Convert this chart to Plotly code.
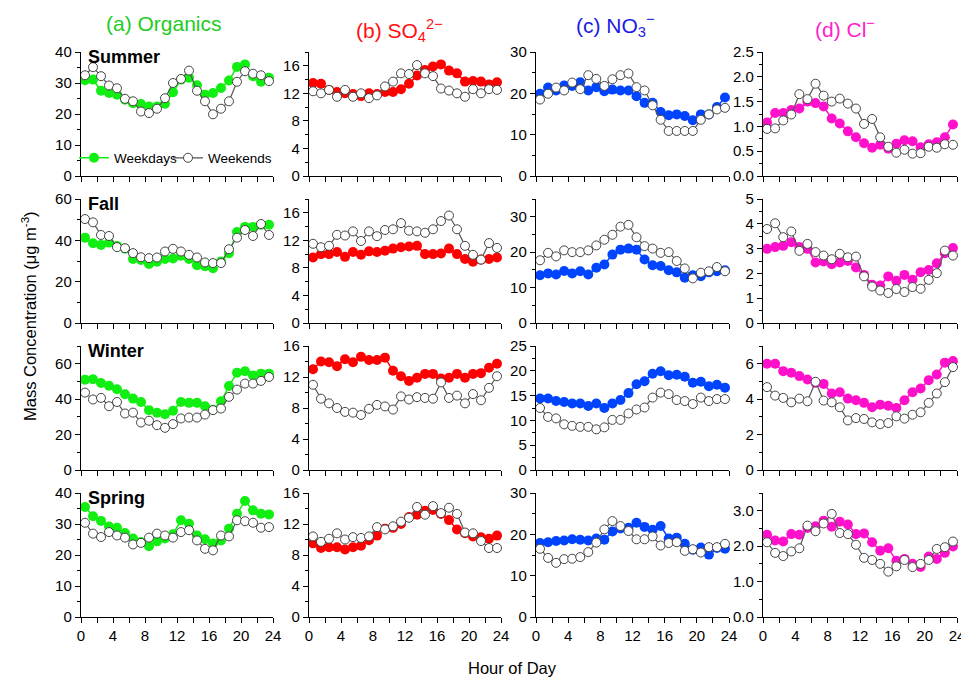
import plotly.graph_objects as go

# page is shown with the browser's 8px body margin
OFF = 8
W, H = 969 - OFF, 682 - OFF

HOURS = [0.5, 1.5, 2.5, 3.5, 4.5, 5.5, 6.5, 7.5, 8.5, 9.5, 10.5, 11.5,
         12.5, 13.5, 14.5, 15.5, 16.5, 17.5, 18.5, 19.5, 20.5, 21.5, 22.5, 23.5]

SEASONS = ["Summer", "Fall", "Winter", "Spring"]
SPECIES_TITLES = ["(a) Organics", "(b) SO<sub>4</sub><sup>2\u2212</sup>",
                  "(c) NO<sub>3</sub><sup>\u2212</sup>", "(d) Cl<sup>\u2212</sup>"]

# ---- Organics ----
ORG_SU_WD = [30.9, 31.1, 27.5, 26.8, 26.2, 24.6, 23.5, 23.2, 22.4, 22.4, 23.3, 27.0, 31.1, 31.7, 29.3, 26.2, 26.8, 28.4, 30.8, 35.2, 36.0, 32.2, 30.4, 31.7]
ORG_SU_WE = [32.5, 35.1, 32.2, 29.2, 28.3, 24.9, 24.1, 20.8, 20.3, 21.7, 25.1, 30.0, 31.3, 34.0, 27.5, 24.1, 19.9, 21.7, 24.1, 30.4, 33.8, 33.0, 32.5, 30.6]
ORG_FA_WD = [41.3, 38.6, 37.8, 38.9, 37.3, 36.0, 31.0, 30.5, 28.6, 29.6, 31.0, 31.2, 32.5, 31.0, 28.0, 27.5, 26.5, 29.8, 33.8, 44.0, 46.5, 46.5, 47.5, 47.5]
ORG_FA_WE = [50.3, 48.7, 42.6, 42.1, 36.7, 36.2, 33.8, 31.8, 31.4, 31.7, 34.6, 35.9, 34.6, 33.0, 31.7, 29.3, 29.0, 29.0, 35.7, 41.3, 45.0, 42.1, 47.9, 42.6]
ORG_WI_WD = [51.0, 51.2, 49.1, 47.6, 45.6, 42.8, 40.3, 38.4, 33.8, 32.3, 31.5, 33.4, 38.4, 37.9, 37.9, 36.0, 34.0, 38.8, 47.4, 54.9, 55.7, 53.4, 54.4, 54.4]
ORG_WI_WE = [43.7, 39.8, 40.7, 36.0, 38.4, 31.9, 32.4, 26.8, 27.8, 25.3, 23.8, 25.9, 29.1, 29.6, 29.6, 31.3, 33.8, 34.7, 41.3, 45.4, 48.8, 48.8, 50.3, 52.5]
ORG_SP_WD = [35.5, 32.5, 31.0, 29.2, 28.8, 27.1, 25.3, 24.2, 22.8, 24.4, 25.3, 26.7, 31.2, 30.1, 26.3, 25.1, 23.7, 24.7, 28.5, 33.3, 37.4, 34.4, 33.3, 33.1]
ORG_SP_WE = [30.4, 26.9, 25.8, 27.4, 26.3, 25.6, 23.4, 23.9, 25.6, 26.9, 26.3, 25.6, 27.4, 28.0, 24.7, 22.0, 21.5, 26.3, 26.0, 31.2, 30.9, 30.4, 28.8, 29.0]

# ---- Sulfate ----
SO4_SU_WD = [13.5, 13.4, 12.5, 12.2, 12.0, 11.9, 11.6, 12.0, 11.9, 12.2, 12.2, 12.6, 13.4, 14.6, 15.4, 15.9, 16.2, 15.3, 14.9, 13.7, 13.8, 13.7, 13.3, 13.6]
SO4_SU_WE = [12.3, 12.0, 12.5, 11.5, 12.5, 11.5, 12.0, 11.3, 11.7, 13.0, 13.7, 14.9, 14.8, 16.1, 14.9, 14.5, 12.7, 12.4, 12.0, 11.5, 12.6, 12.0, 12.6, 12.5]
SO4_FA_WD = [9.5, 10.0, 10.0, 10.3, 9.6, 10.3, 9.9, 10.4, 10.3, 10.5, 10.8, 11.0, 11.1, 11.2, 10.0, 10.0, 10.1, 10.8, 10.0, 9.3, 8.9, 9.2, 9.3, 9.5]
SO4_FA_WE = [11.5, 11.0, 11.2, 12.8, 12.7, 13.3, 11.9, 13.3, 12.6, 13.5, 13.6, 14.5, 13.4, 13.3, 13.1, 13.6, 14.8, 15.6, 13.6, 11.2, 9.9, 9.2, 11.6, 10.9]
SO4_WI_WD = [13.0, 14.0, 13.9, 13.4, 14.3, 13.9, 14.6, 14.2, 14.2, 14.5, 12.8, 12.1, 11.5, 11.9, 12.4, 12.4, 11.8, 11.9, 12.4, 11.9, 12.4, 12.5, 13.2, 13.7]
SO4_WI_WE = [11.0, 9.2, 8.6, 8.0, 7.5, 7.4, 7.1, 7.9, 8.4, 8.2, 7.8, 9.5, 9.1, 9.4, 9.3, 9.2, 11.3, 9.3, 9.6, 8.6, 9.8, 9.0, 10.6, 12.1]
SO4_SP_WD = [9.5, 8.9, 9.0, 9.0, 8.7, 9.0, 9.2, 9.9, 10.5, 11.4, 11.5, 12.0, 12.9, 13.2, 13.7, 13.8, 13.3, 12.5, 11.3, 10.8, 10.4, 10.3, 10.1, 10.5]
SO4_SP_WE = [10.4, 9.7, 10.1, 10.8, 10.0, 10.3, 10.2, 10.4, 11.6, 11.3, 11.7, 12.3, 12.8, 14.2, 13.2, 14.3, 13.4, 14.1, 13.3, 10.9, 10.8, 9.8, 8.9, 8.9]

# ---- Nitrate ----
NO3_SU_WD = [19.9, 21.4, 20.7, 21.9, 21.8, 22.7, 20.7, 21.5, 20.5, 20.9, 20.7, 20.7, 19.3, 17.7, 17.7, 15.5, 14.7, 14.9, 14.5, 13.5, 14.9, 14.9, 16.7, 19.0]
NO3_SU_WE = [18.5, 19.9, 21.4, 20.7, 22.6, 21.0, 24.4, 23.5, 21.8, 23.4, 24.4, 24.8, 21.5, 20.7, 17.1, 13.6, 10.9, 10.9, 10.9, 10.9, 13.6, 14.9, 16.1, 16.5]
NO3_FA_WD = [13.5, 14.0, 13.7, 14.7, 14.0, 14.6, 13.7, 15.6, 16.5, 19.3, 20.7, 21.0, 20.7, 17.9, 16.3, 16.1, 14.9, 14.3, 12.8, 13.5, 13.2, 14.3, 14.6, 14.9]
NO3_FA_WE = [17.7, 19.8, 18.8, 20.5, 20.0, 20.0, 20.5, 21.9, 23.5, 24.9, 27.2, 27.7, 24.2, 21.7, 21.0, 19.8, 20.0, 17.5, 15.4, 12.6, 14.2, 14.6, 15.8, 14.6]
NO3_WI_WD = [14.4, 14.4, 13.9, 13.7, 13.4, 13.4, 12.9, 13.4, 12.5, 13.4, 14.1, 15.5, 17.3, 17.9, 19.4, 19.9, 19.1, 19.2, 18.8, 17.6, 17.8, 16.9, 17.2, 16.6]
NO3_WI_WE = [12.5, 10.7, 10.4, 9.2, 8.9, 8.7, 8.7, 8.2, 8.6, 10.1, 10.1, 11.4, 12.2, 12.6, 14.6, 15.6, 15.3, 14.1, 13.9, 13.3, 14.6, 13.9, 14.3, 14.3]
NO3_SP_WD = [17.9, 18.1, 18.4, 18.5, 18.8, 18.7, 18.5, 19.0, 18.7, 20.7, 21.4, 21.6, 22.8, 21.8, 21.1, 22.0, 19.0, 19.2, 17.7, 16.3, 16.8, 15.1, 16.7, 16.5]
NO3_SP_WE = [16.5, 14.3, 13.1, 14.0, 14.1, 14.5, 15.7, 18.0, 21.2, 23.2, 22.0, 20.8, 18.8, 18.8, 19.5, 17.3, 17.9, 18.1, 16.0, 16.4, 15.6, 16.9, 16.9, 17.7]

# ---- Chloride ----
CL_SU_WD = [1.08, 1.27, 1.27, 1.33, 1.36, 1.50, 1.47, 1.40, 1.16, 1.06, 0.90, 0.78, 0.66, 0.57, 0.63, 0.55, 0.65, 0.72, 0.70, 0.58, 0.64, 0.68, 0.78, 1.04]
CL_SU_WE = [0.95, 0.96, 1.12, 1.24, 1.65, 1.55, 1.86, 1.62, 1.50, 1.56, 1.46, 1.36, 1.05, 1.15, 0.78, 0.59, 0.47, 0.53, 0.45, 0.46, 0.59, 0.57, 0.64, 0.63]
CL_FA_WD = [2.99, 3.06, 3.11, 3.26, 3.06, 2.99, 2.44, 2.48, 2.37, 2.44, 2.50, 2.24, 1.94, 1.54, 1.51, 1.88, 1.70, 1.94, 1.74, 2.05, 2.14, 2.41, 2.81, 3.02]
CL_FA_WE = [3.79, 4.02, 3.46, 3.69, 2.91, 3.19, 2.86, 2.72, 2.57, 2.79, 2.65, 2.68, 1.88, 1.47, 1.31, 1.21, 1.37, 1.25, 1.45, 1.38, 1.74, 2.01, 2.92, 2.72]
CL_WI_WD = [6.00, 6.00, 5.58, 5.49, 5.30, 5.11, 4.92, 4.86, 4.32, 4.39, 4.03, 3.94, 3.79, 3.54, 3.69, 3.63, 3.50, 3.94, 4.39, 4.60, 5.07, 5.39, 6.06, 6.15]
CL_WI_WE = [4.68, 4.20, 4.07, 3.82, 4.03, 3.88, 4.98, 3.92, 3.82, 3.54, 2.80, 2.93, 2.88, 2.69, 2.59, 2.65, 3.03, 2.90, 3.12, 3.26, 3.79, 4.32, 4.96, 5.81]
CL_SP_WD = [2.32, 2.16, 2.13, 2.34, 2.32, 2.51, 2.56, 2.72, 2.55, 2.69, 2.61, 2.34, 2.36, 2.11, 1.87, 1.94, 1.59, 1.64, 1.50, 1.41, 1.71, 1.64, 1.81, 1.99]
CL_SP_WE = [2.11, 1.81, 1.72, 1.85, 1.94, 2.58, 2.42, 2.64, 2.91, 2.37, 2.34, 2.04, 1.67, 1.61, 1.50, 1.28, 1.43, 1.61, 1.41, 1.50, 1.61, 1.92, 1.97, 2.13]

# y-axis limits per panel: (max, major step, minor step)
ORG_AXES = [(40, 10, 5), (60, 20, 10), (70, 20, 10), (40, 10, 5)]
SO4_AXES = [(18, 4, 2), (18, 4, 2), (16, 4, 2), (16, 4, 2)]
NO3_AXES = [(30, 10, 5), (35, 10, 5), (25, 5, 2.5), (30, 10, 5)]
CL_AXES = [(2.5, 0.5, 0.25), (5, 1, 0.5), (7, 2, 1), (3.5, 1, 0.5)]

# ---- styles / layout (page pixel positions) ----
MARKER_COLORS = ["#11EE11", "#FF0000", "#0044FF", "#FF11CC"]
TITLE_COLORS = ["#22CC22", "#FF1111", "#1A1AE6", "#FF22CC"]
TITLE_X = [164, 399, 615, 845]
TITLE_Y = [23, 30, 25, 28]
TICKFMT = [[None] * 4, [None] * 4, [None] * 4, [".1f", None, None, ".1f"]]
COL_PX = [(81, 273), (309, 501), (536, 729), (763, 957)]
ROW_PX = [(52, 176), (199, 323), (346, 470), (493, 617)]
FONT = "Arial, Liberation Sans, sans-serif"


def px(xp):
    return (xp - OFF) / W


def py(yp):
    return 1 - (yp - OFF) / H


columns = [
    [(ORG_SU_WD, ORG_SU_WE), (ORG_FA_WD, ORG_FA_WE), (ORG_WI_WD, ORG_WI_WE), (ORG_SP_WD, ORG_SP_WE)],
    [(SO4_SU_WD, SO4_SU_WE), (SO4_FA_WD, SO4_FA_WE), (SO4_WI_WD, SO4_WI_WE), (SO4_SP_WD, SO4_SP_WE)],
    [(NO3_SU_WD, NO3_SU_WE), (NO3_FA_WD, NO3_FA_WE), (NO3_WI_WD, NO3_WI_WE), (NO3_SP_WD, NO3_SP_WE)],
    [(CL_SU_WD, CL_SU_WE), (CL_FA_WD, CL_FA_WE), (CL_WI_WD, CL_WI_WE), (CL_SP_WD, CL_SP_WE)],
]
axes_spec = [ORG_AXES, SO4_AXES, NO3_AXES, CL_AXES]

fig = go.Figure()
layout = {}
for c in range(4):
    for r in range(4):
        k = r * 4 + c + 1
        xs = "" if k == 1 else str(k)
        wd, we = columns[c][r]
        first = (k == 1)
        fig.add_trace(go.Scatter(
            x=HOURS, y=wd, mode="lines+markers", name="Weekdays",
            xaxis="x" + xs, yaxis="y" + xs, showlegend=first, legend="legend",
            line=dict(color=MARKER_COLORS[c], width=1.5),
            marker=dict(color=MARKER_COLORS[c], size=10, line=dict(width=0)),
            cliponaxis=False))
        fig.add_trace(go.Scatter(
            x=HOURS, y=we, mode="lines+markers", name="Weekends",
            xaxis="x" + xs, yaxis="y" + xs, showlegend=first, legend="legend2",
            line=dict(color="#555555", width=1.2),
            marker=dict(color="white", size=9, line=dict(color="#444444", width=1)),
            cliponaxis=False))
        x0, x1 = COL_PX[c]
        y0, y1 = ROW_PX[r]
        ymax, dt, mdt = axes_spec[c][r]
        layout["xaxis" + xs] = dict(
            domain=[px(x0), px(x1)], anchor="y" + xs, range=[0, 24], automargin=False,
            tick0=0, dtick=4, ticks="outside", ticklen=5, tickwidth=1.2,
            tickcolor="black", showline=True, linecolor="black", linewidth=1.4,
            showgrid=False, zeroline=False, showticklabels=(r == 3),
            tickfont=dict(family=FONT, size=15, color="black"),
            minor=dict(dtick=2, tick0=0, ticks="outside", ticklen=5,
                       tickwidth=1.2, tickcolor="black", showgrid=False))
        layout["yaxis" + xs] = dict(
            domain=[py(y1), py(y0)], anchor="x" + xs, range=[0, ymax], automargin=False,
            tick0=0, dtick=dt, ticks="outside", ticklen=5, tickwidth=1.2,
            tickcolor="black", showline=True, linecolor="black", linewidth=1.4,
            showgrid=False, zeroline=False, tickformat=TICKFMT[c][r],
            tickfont=dict(family=FONT, size=15, color="black"),
            minor=dict(dtick=mdt, tick0=0, ticks="outside", ticklen=3,
                       tickwidth=1.2, tickcolor="black", showgrid=False))

annotations = []
for c in range(4):
    annotations.append(dict(
        text=SPECIES_TITLES[c], xref="paper", yref="paper",
        x=px(TITLE_X[c]), y=py(TITLE_Y[c]), xanchor="center", yanchor="middle",
        showarrow=False, font=dict(family=FONT, size=21, color=TITLE_COLORS[c])))
for r in range(4):
    annotations.append(dict(
        text="<b>" + SEASONS[r] + "</b>", xref="paper", yref="paper",
        x=px(86), y=py(ROW_PX[r][0] + 5), xanchor="left", yanchor="middle",
        showarrow=False, font=dict(family=FONT, size=18, color="black")))
annotations.append(dict(
    text="Mass Concentration (\u03bcg m<sup>-3</sup>)", xref="paper", yref="paper",
    x=px(29), y=py(316), xanchor="center", yanchor="middle", textangle=-90,
    showarrow=False, font=dict(family=FONT, size=16.5, color="black")))
annotations.append(dict(
    text="Hour of Day", xref="paper", yref="paper",
    x=px(512), y=py(668), xanchor="center", yanchor="middle",
    showarrow=False, font=dict(family=FONT, size=16.5, color="black")))

legend_style = dict(orientation="h", xanchor="left", yanchor="middle",
                    bgcolor="rgba(0,0,0,0)", itemwidth=30,
                    font=dict(family=FONT, size=13.5, color="black"))

fig.update_layout(
    width=W, height=H, margin=dict(l=0, r=0, t=0, b=0, autoexpand=False),
    paper_bgcolor="white", plot_bgcolor="rgba(0,0,0,0)",
    showlegend=True,
    legend=dict(x=px(74), y=py(158), **legend_style),
    legend2=dict(x=px(168), y=py(158), **legend_style),
    annotations=annotations,
    **layout)

fig.write_html("out.html")
